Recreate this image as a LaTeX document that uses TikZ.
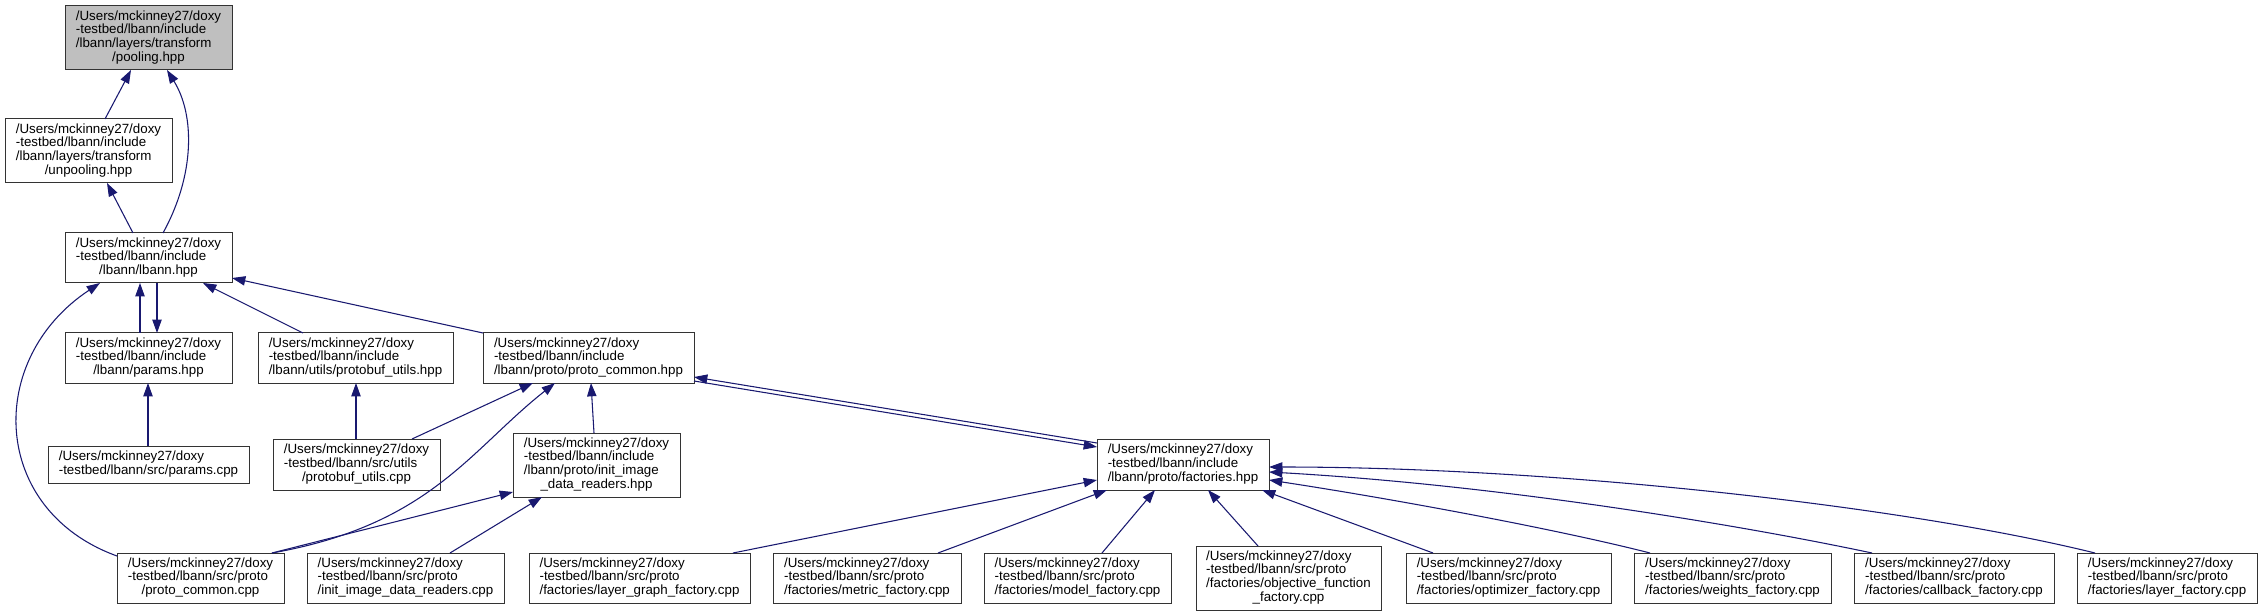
\documentclass[tikz,border=0pt]{standalone}
\usepackage{fontspec}
\setmainfont{Liberation Sans}
\usetikzlibrary{arrows.meta,calc}
\definecolor{edgeblue}{HTML}{191970}
\definecolor{poolgrey}{HTML}{BFBFBF}
\newcommand\lbl[2]{\begin{tabular}{@{}l@{}}#1\\\multicolumn{1}{@{}c@{}}{#2}\end{tabular}}
\newcommand\fnode[7][]{\node[filebox,#1,minimum width={(#5-#3)*0.75pt},minimum height={(#6-#4)*0.75pt}] (#2) at ({(#3+#5)/2},{(#4+#6)/2}) {#7};}
\tikzset{
  filebox/.style={draw=black!80, line width=0.75pt, fill=white, rectangle, inner sep=0pt, outer sep=0pt, font=\fontsize{10pt}{10.1pt}\selectfont},
  dep/.style={draw=edgeblue, line width=0.8pt, -{Triangle[length=10pt,width=7pt]}}
}
\begin{document}
\begin{tikzpicture}[x=0.75pt,y=-0.75pt]
\useasboundingbox (0,0) rectangle (2262,616);
% nodes
\fnode[fill=poolgrey]{pool}{65}{6}{232}{70}{\lbl{/Users/mckinney27/doxy\\-testbed/lbann/include\\/lbann/layers/transform}{/pooling.hpp}}
\fnode{unpool}{5}{119}{172}{183}{\lbl{/Users/mckinney27/doxy\\-testbed/lbann/include\\/lbann/layers/transform}{/unpooling.hpp}}
\fnode{lbann}{65}{233}{232}{283}{\lbl{/Users/mckinney27/doxy\\-testbed/lbann/include}{/lbann/lbann.hpp}}
\fnode{params}{65}{333}{232}{383}{\lbl{/Users/mckinney27/doxy\\-testbed/lbann/include}{/lbann/params.hpp}}
\fnode{paramscpp}{48}{446}{249}{483}{\lbl{/Users/mckinney27/doxy}{-testbed/lbann/src/params.cpp}}
\fnode{pbh}{258}{333}{453}{383}{\lbl{/Users/mckinney27/doxy\\-testbed/lbann/include}{/lbann/utils/protobuf\_utils.hpp}}
\fnode{pbc}{273}{439}{440}{490}{\lbl{/Users/mckinney27/doxy\\-testbed/lbann/src/utils}{/protobuf\_utils.cpp}}
\fnode{pch}{483}{333}{694}{383}{\lbl{/Users/mckinney27/doxy\\-testbed/lbann/include}{/lbann/proto/proto\_common.hpp}}
\fnode{iih}{513}{433}{680}{497}{\lbl{/Users/mckinney27/doxy\\-testbed/lbann/include\\/lbann/proto/init\_image}{\_data\_readers.hpp}}
\fnode{fac}{1097}{439}{1269}{490}{\lbl{/Users/mckinney27/doxy\\-testbed/lbann/include}{/lbann/proto/factories.hpp}}
\fnode{pcc}{117}{553}{284}{603}{\lbl{/Users/mckinney27/doxy\\-testbed/lbann/src/proto}{/proto\_common.cpp}}
\fnode{iic}{307}{553}{504}{603}{\lbl{/Users/mckinney27/doxy\\-testbed/lbann/src/proto}{/init\_image\_data\_readers.cpp}}
\fnode{lg}{529}{553}{750}{603}{\lbl{/Users/mckinney27/doxy\\-testbed/lbann/src/proto}{/factories/layer\_graph\_factory.cpp}}
\fnode{met}{773}{553}{961}{603}{\lbl{/Users/mckinney27/doxy\\-testbed/lbann/src/proto}{/factories/metric\_factory.cpp}}
\fnode{mod}{984}{553}{1171}{603}{\lbl{/Users/mckinney27/doxy\\-testbed/lbann/src/proto}{/factories/model\_factory.cpp}}
\fnode{obj}{1196}{546}{1381}{610}{\lbl{/Users/mckinney27/doxy\\-testbed/lbann/src/proto\\/factories/objective\_function}{\_factory.cpp}}
\fnode{opt}{1406}{553}{1611}{603}{\lbl{/Users/mckinney27/doxy\\-testbed/lbann/src/proto}{/factories/optimizer\_factory.cpp}}
\fnode{wts}{1634}{553}{1831}{603}{\lbl{/Users/mckinney27/doxy\\-testbed/lbann/src/proto}{/factories/weights\_factory.cpp}}
\fnode{cb}{1854}{553}{2054}{603}{\lbl{/Users/mckinney27/doxy\\-testbed/lbann/src/proto}{/factories/callback\_factory.cpp}}
\fnode{lf}{2077}{553}{2257}{603}{\lbl{/Users/mckinney27/doxy\\-testbed/lbann/src/proto}{/factories/layer\_factory.cpp}}
% edges
\draw[dep] ($(unpool.north west)+(100,0)$) -- ($(pool.south west)+(66,0)$);
\draw[dep] ($(lbann.north west)+(98,0)$) .. controls +(32,-58) and +(28,45) .. ($(pool.south west)+(102,0)$);
\draw[dep] ($(lbann.north west)+(68,0)$) -- ($(unpool.south west)+(102,0)$);
\draw[dep] ($(params.north west)+(75,0)$) -- ($(lbann.south west)+(75,0)$);
\draw[dep] ($(lbann.south west)+(92,0)$) -- ($(params.north west)+(92,0)$);
\draw[dep] ($(pbh.north west)+(45,0)$) -- ($(lbann.south west)+(138,0)$);
\draw[dep] (pch.north west) -- ($(lbann.south east)+(0,-5)$);
\draw[dep] ($(pcc.north west)+(0,3)$) .. controls +(-127,-46) and +(-115,76) .. ($(lbann.south west)+(35,0)$);
\draw[dep] ($(paramscpp.north west)+(100,0)$) -- ($(params.south west)+(83,0)$);
\draw[dep] ($(pbc.north west)+(83,0)$) -- ($(pbh.south west)+(98,0)$);
\draw[dep] ($(pbc.north west)+(139,0)$) -- ($(pch.south west)+(50,0)$);
\draw[dep] ($(pcc.north west)+(155,0)$) .. controls +(158,-28) and +(-85,67) .. ($(pch.south west)+(72,0)$);
\draw[dep] ($(pcc.north west)+(155,0)$) -- ($(iih.south west)+(0,-5)$);
\draw[dep] ($(iic.north west)+(143,0)$) -- ($(iih.south west)+(29,0)$);
\draw[dep] ($(iih.north west)+(81,0)$) -- ($(pch.south west)+(108,0)$);
\draw[dep] ($(fac.north west)+(0,4)$) -- ($(pch.south east)+(0,-6)$);
\draw[dep] ($(pch.south east)+(0,-2)$) -- ($(fac.north west)+(0,8)$);
\draw[dep] ($(lg.north west)+(204,0)$) -- ($(fac.south west)+(0,-10)$);
\draw[dep] ($(met.north west)+(165,0)$) -- ($(fac.south west)+(10,0)$);
\draw[dep] ($(mod.north west)+(118,0)$) -- ($(fac.south west)+(58,0)$);
\draw[dep] ($(obj.north west)+(62,0)$) -- ($(fac.south west)+(111,0)$);
\draw[dep] ($(opt.north west)+(27,0)$) -- ($(fac.south east)+(-7,0)$);
\draw[dep] ($(wts.north west)+(16,0)$) .. controls +(-90,-23) and +(131,20) .. ($(fac.south east)+(0,-10)$);
\draw[dep] ($(cb.north west)+(18,0)$) .. controls +(-132,-28) and +(231,13) .. ($(fac.south east)+(0,-18)$);
\draw[dep] ($(lf.north west)+(18,0)$) .. controls +(-195,-48) and +(281,0) .. ($(fac.south east)+(0,-23)$);
\end{tikzpicture}
\end{document}
